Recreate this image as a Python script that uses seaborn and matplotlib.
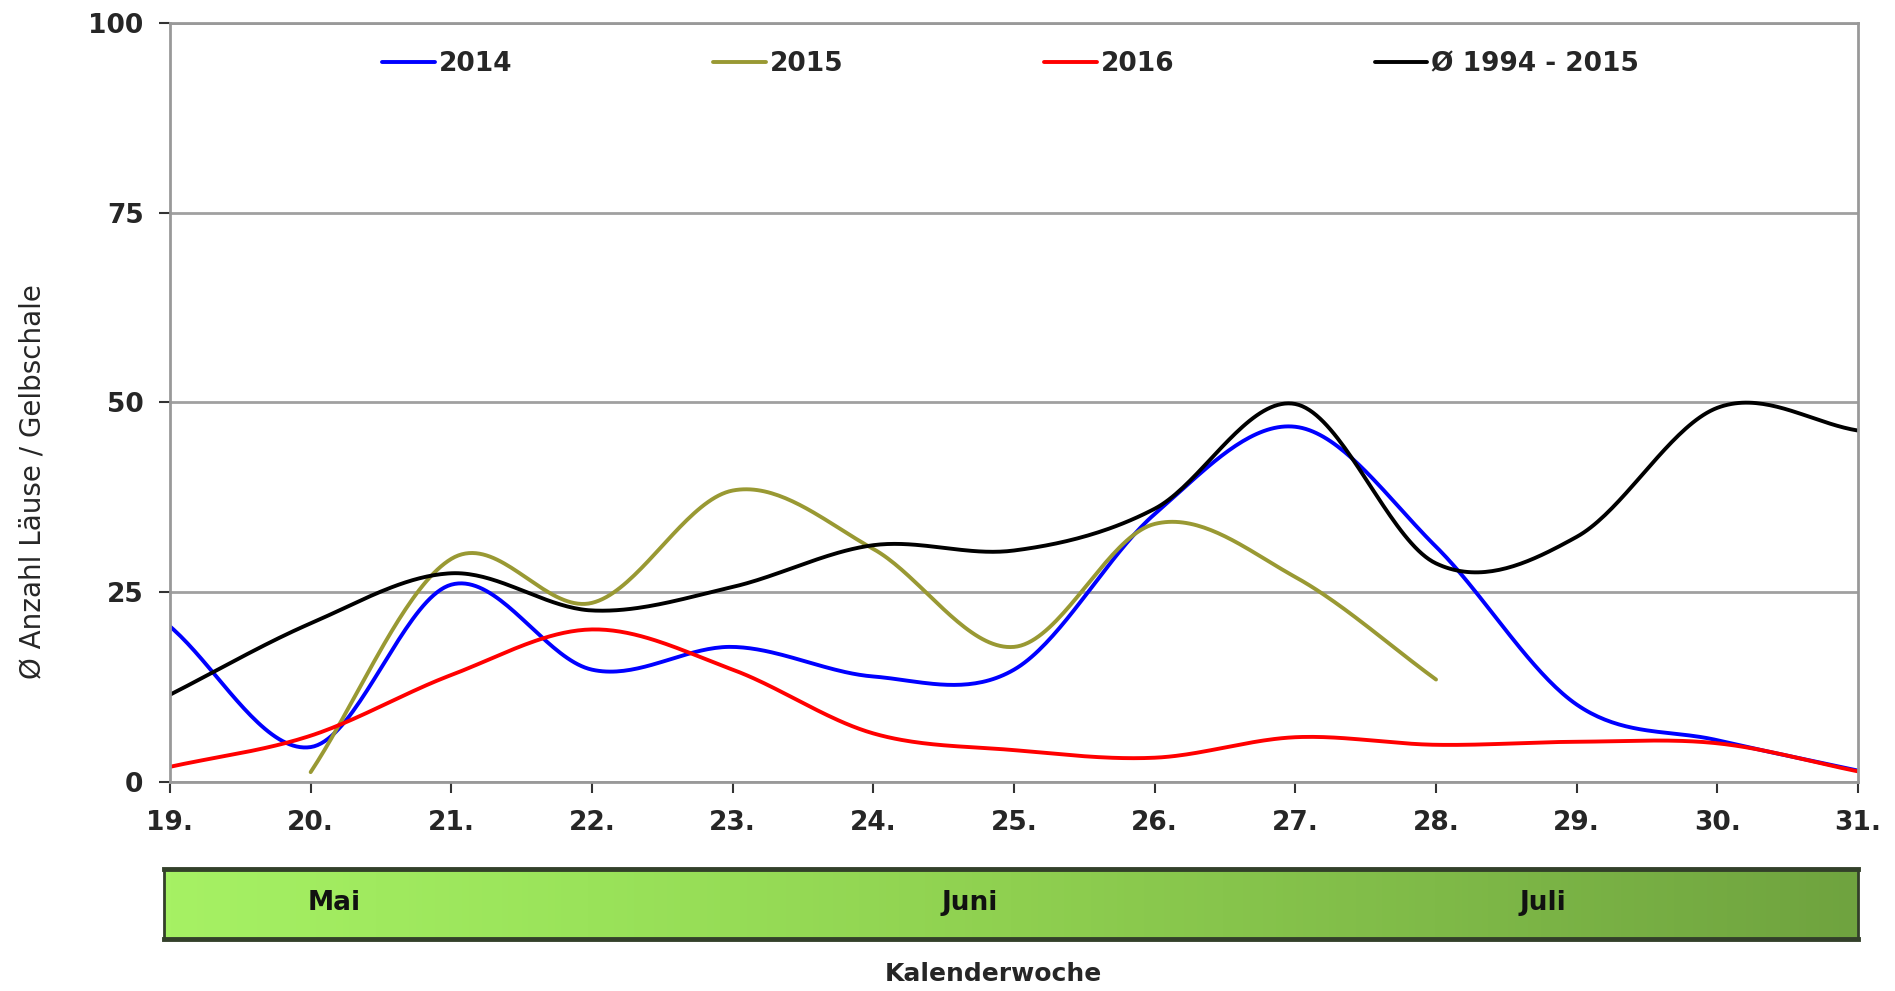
"""
Blattlaus-Flug (Gelbschale): Wochenverlauf 2014-2016 vs. Mittel 1994-2015.
"""

import numpy as np
import pandas as pd
import matplotlib
matplotlib.use("Agg")
import matplotlib.pyplot as plt
from matplotlib.colors import LinearSegmentedColormap
import seaborn as sns

# --- data ---
weeks = [19, 20, 21, 22, 23, 24, 25, 26, 27, 28, 29, 30, 31]
weeks_2015 = [20, 21, 22, 23, 24, 25, 26, 27, 28]

vals_2014 = [20.5, 4.6, 26.0, 14.8, 17.8, 13.9, 14.8, 35.3, 46.8, 31.0, 10.2, 5.5, 1.5]
vals_2015 = [1.3, 29.4, 23.6, 38.4, 30.7, 17.8, 34.0, 27.0, 13.5]
vals_2016 = [2.0, 6.1, 14.1, 20.1, 14.8, 6.4, 4.2, 3.2, 5.9, 4.9, 5.3, 5.1, 1.4]
vals_mean = [11.5, 20.9, 27.5, 22.6, 25.7, 31.2, 30.5, 36.0, 49.8, 28.8, 32.3, 49.3, 46.3]

series_labels = ["2014", "2015", "2016", "Ø 1994 - 2015"]
series_colors = ["#0000ff", "#999933", "#ff0000", "#000000"]

y_ticks = [0, 25, 50, 75, 100]
tick_labels = [f"{w}." for w in weeks]

months = ["Mai", "Juni", "Juli"]
month_pos = [20.17, 24.69, 28.76]


def smooth(x, y, n=40):
    """Excel-style smoothed line: cubic Hermite with Catmull-Rom tangents."""
    x = np.asarray(x, float)
    y = np.asarray(y, float)
    m = np.gradient(y, x)
    xs, ys = [], []
    for i in range(len(x) - 1):
        h = x[i + 1] - x[i]
        t = np.linspace(0, 1, n, endpoint=False)
        h00 = 2 * t**3 - 3 * t**2 + 1
        h10 = t**3 - 2 * t**2 + t
        h01 = -2 * t**3 + 3 * t**2
        h11 = t**3 - t**2
        xs.append(x[i] + t * h)
        ys.append(h00 * y[i] + h10 * h * m[i] + h01 * y[i + 1] + h11 * h * m[i + 1])
    xs.append([x[-1]])
    ys.append([y[-1]])
    return np.concatenate(xs), np.concatenate(ys)


frames = []
for lab, xx, yy in zip(
    series_labels,
    [weeks, weeks_2015, weeks, weeks],
    [vals_2014, vals_2015, vals_2016, vals_mean],
):
    sx, sy = smooth(xx, yy)
    frames.append(pd.DataFrame({"Woche": sx, "Wert": sy, "Serie": lab}))
df = pd.concat(frames, ignore_index=True)

sns.set_theme(style="white")
plt.rcParams["font.family"] = ["DejaVu Sans"]

fig = plt.figure(figsize=(18.95, 9.91), dpi=100)
ax = fig.add_axes([0.0897, 0.2109, 0.8908, 0.7659])

sns.lineplot(
    data=df,
    x="Woche",
    y="Wert",
    hue="Serie",
    hue_order=series_labels,
    palette=dict(zip(series_labels, series_colors)),
    estimator=None,
    sort=False,
    linewidth=2.8,
    legend=False,
    ax=ax,
)

ax.set_xlim(weeks[0], weeks[-1])
ax.set_ylim(0, 100)
ax.set_yticks(y_ticks)
ax.set_yticklabels([str(v) for v in y_ticks], fontsize=19, fontweight="bold")
ax.set_xticks(weeks)
ax.set_xticklabels(tick_labels, fontsize=19, fontweight="bold")
ax.tick_params(axis="both", direction="out", length=8, width=1.5, color="#333333",
               left=True, bottom=True)
ax.tick_params(axis="y", pad=11)
ax.tick_params(axis="x", pad=12)
ax.grid(axis="y", color="#a0a0a0", linewidth=2)
ax.set_axisbelow(True)
for side in ["left", "right", "bottom", "top"]:
    ax.spines[side].set_visible(True)
    ax.spines[side].set_color("#999999")
    ax.spines[side].set_linewidth(2)
ax.set_xlabel("")
ax.set_ylabel("Ø Anzahl Läuse / Gelbschale", fontsize=20, va="center")
ax.yaxis.set_label_coords(-0.0814, 0.396)

handles = ax.get_lines()[:4]
ax.legend(
    handles,
    series_labels,
    loc="center",
    bbox_to_anchor=(0.498, 0.946),
    ncol=4,
    frameon=False,
    handlelength=2.0,
    handletextpad=0.15,
    columnspacing=7.6,
    prop={"size": 19, "weight": "bold"},
)

# month band below the chart
bar = fig.add_axes([0.0865, 0.0525, 0.894, 0.0706])
cmap = LinearSegmentedColormap.from_list(
    "band", ["#a6f164", "#9ae35a", "#8fd050", "#7fba48", "#6fa33f"]
)
bar.imshow(np.linspace(0, 1, 256)[None, :], aspect="auto", cmap=cmap,
           extent=[18.96, weeks[-1], 0, 1])
bar.set_xlim(18.96, weeks[-1])
bar.set_ylim(0, 1)
bar.set_xticks([])
bar.set_yticks([])
for side in ["top", "bottom"]:
    bar.spines[side].set_linewidth(3.5)
    bar.spines[side].set_color("#33402a")
for side in ["left", "right"]:
    bar.spines[side].set_linewidth(2)
    bar.spines[side].set_color("#33402a")
for name, pos in zip(months, month_pos):
    bar.text(pos, 0.52, name, ha="center", va="center", fontsize=19,
             fontweight="bold", color="#111111")

fig.text(0.524, 0.010, "Kalenderwoche", ha="center", va="baseline",
         fontsize=18, fontweight="bold")

fig.savefig("out.png", dpi=100)
